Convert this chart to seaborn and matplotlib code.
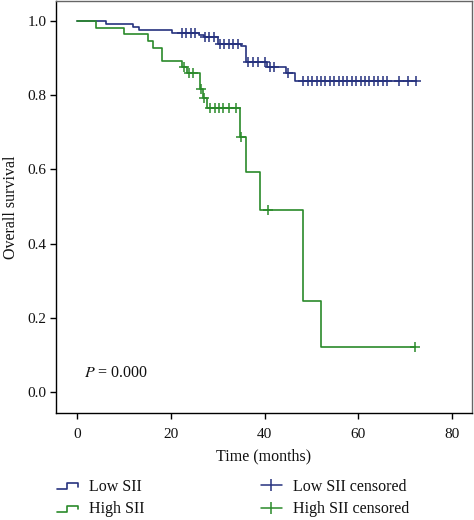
import numpy as np
import matplotlib
matplotlib.use("Agg")
import matplotlib.pyplot as plt
import seaborn as sns
from matplotlib.lines import Line2D
from matplotlib.legend_handler import HandlerBase

# ---------------- data ----------------
low_times = [0, 6.1, 12.0, 13.2, 20.2, 25.9, 27.0, 30.1, 35.0, 36.1, 40.6, 44.6, 46.5, 72.3]
low_surv = [1.0, 0.992, 0.983, 0.974, 0.968, 0.961, 0.955, 0.937, 0.932, 0.889, 0.876, 0.858, 0.837, 0.837]
low_censored = [22.3, 23.2, 24.2, 25.1, 27.3, 28.2, 29.3, 30.5, 31.4, 32.4, 33.3, 34.3,
                36.5, 37.5, 38.5, 40.1, 41.2, 42.1, 45.1,
                48.3, 49.2, 50.2, 51.1, 52.1, 53.0, 54.0, 54.9, 55.8, 56.8, 57.7, 58.6,
                59.6, 60.5, 61.5, 62.4, 63.3, 64.3, 65.2, 66.2, 68.8, 70.6, 72.3]

high_times = [0, 4.1, 10.0, 15.0, 16.1, 18.0, 22.3, 23.4, 26.2, 26.9, 27.8, 34.8, 36.0, 39.0, 48.3, 52.1, 72.2]
high_surv = [1.0, 0.981, 0.963, 0.944, 0.926, 0.891, 0.875, 0.858, 0.815, 0.791, 0.764, 0.688, 0.592, 0.490, 0.246, 0.123, 0.123]
high_censored = [22.8, 23.8, 24.8, 26.4, 27.0, 28.4, 29.4, 30.3, 31.2, 32.3, 34.0, 35.0, 40.8, 72.2]

series_labels = ["Low SII", "High SII"]
censor_labels = ["Low SII censored", "High SII censored"]
x_ticks = [0, 20, 40, 60, 80]
y_ticks = [0.0, 0.2, 0.4, 0.6, 0.8, 1.0]
p_text = "0.000"

BLUE = "#26327e"
GREEN = "#2a8a2a"

sns.set_theme(style="white")
plt.rcParams["font.family"] = ["Liberation Serif", "DejaVu Serif"]
plt.rcParams["mathtext.fontset"] = "stix"

fig = plt.figure(figsize=(4.74, 5.20), dpi=100)
ax = fig.add_axes([56 / 474, 1 - 413 / 520, (472 - 56) / 474, (413 - 1) / 520])


def surv_at(times, surv, t):
    idx = np.searchsorted(np.asarray(times), t, side="right") - 1
    return np.asarray(surv)[idx]


for times, surv, cens, col in [(low_times, low_surv, low_censored, BLUE),
                               (high_times, high_surv, high_censored, GREEN)]:
    sns.lineplot(x=times, y=surv, drawstyle="steps-post", color=col, linewidth=1.2,
                 estimator=None, ax=ax, legend=False)
    cy = surv_at(times, surv, np.asarray(cens))
    sns.scatterplot(x=cens, y=cy, marker="+", s=50, color=col, linewidth=1.1,
                    ax=ax, legend=False, zorder=3)

ax.set_xlim(-4.55, 84.3)
ax.set_ylim(-0.056, 1.053)
ax.set_xticks(x_ticks)
ax.set_yticks(y_ticks)
ax.set_yticklabels([f"{v:.1f}" for v in y_ticks])
ax.tick_params(axis="both", direction="out", length=4, width=1, color="black",
               labelsize=11, pad=3, bottom=True, left=True, labelcolor="#111111")
ax.tick_params(axis="x", pad=7)
for side in ["left", "bottom"]:
    ax.spines[side].set_color("black")
    ax.spines[side].set_linewidth(1.0)
for side in ["top", "right"]:
    ax.spines[side].set_color("#666666")
    ax.spines[side].set_linewidth(1.0)

ax.set_xlabel("Time (months)", fontsize=11.5, labelpad=5, color="#111111")
ax.set_ylabel("Overall survival", fontsize=11.5, labelpad=6, color="#111111")

ax.text(1.4, 0.052, r"$P$ = " + p_text, fontsize=11.5, va="center", ha="left", color="#111111")


class StepHandler(HandlerBase):
    def create_artists(self, legend, orig_handle, xdescent, ydescent, width, height, fontsize, trans):
        x0 = -xdescent
        y0 = -ydescent
        xs = [x0, x0 + width * 0.5, x0 + width * 0.5, x0 + width, x0 + width]
        ys = [y0 + height * 0.15, y0 + height * 0.15, y0 + height * 0.7, y0 + height * 0.7, y0 + height * 0.4]
        ln = Line2D(xs, ys, color=orig_handle.get_color(), linewidth=1.2, transform=trans)
        return [ln]


h_low = Line2D([], [], color=BLUE)
h_high = Line2D([], [], color=GREEN)
c_low = Line2D([], [], color=BLUE, linestyle="-", linewidth=1.1, marker="|", markersize=8, markeredgewidth=1.1)
c_high = Line2D([], [], color=GREEN, linestyle="-", linewidth=1.1, marker="|", markersize=8, markeredgewidth=1.1)

leg_kw = dict(loc="upper left", frameon=False, fontsize=11.5, handlelength=1.3,
              handletextpad=0.7, labelspacing=0.4, borderpad=0, borderaxespad=0)
leg1 = fig.legend([h_low, h_high], series_labels, bbox_to_anchor=(57 / 474, 1 - 479 / 520),
                  handler_map={Line2D: StepHandler()}, **leg_kw)
leg2 = fig.legend([c_low, c_high], censor_labels, bbox_to_anchor=(261 / 474, 1 - 479 / 520), **leg_kw)
for leg in (leg1, leg2):
    for t in leg.get_texts():
        t.set_color("#111111")

fig.savefig("out.png", dpi=100)
